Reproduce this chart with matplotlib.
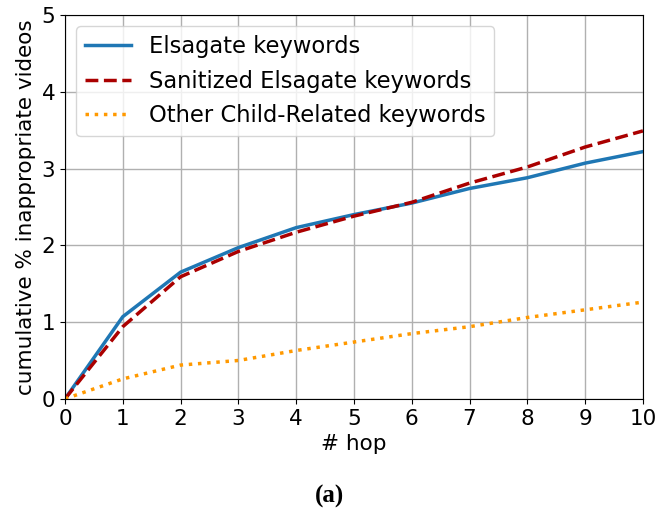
import matplotlib.pyplot as plt

hops = [0, 1, 2, 3, 4, 5, 6, 7, 8, 9, 10]
elsagate = [0, 1.07, 1.65, 1.97, 2.23, 2.40, 2.55, 2.74, 2.88, 3.07, 3.22]
sanitized = [0, 0.94, 1.59, 1.92, 2.17, 2.38, 2.56, 2.81, 3.02, 3.28, 3.49]
other = [0, 0.26, 0.44, 0.50, 0.63, 0.74, 0.85, 0.94, 1.06, 1.16, 1.26]

fig = plt.figure(figsize=(6.59, 5.16), dpi=100)
ax = fig.add_axes([0.0986, 0.227, 0.877, 0.744])

ax.plot(hops, elsagate, color='#1f77b4', lw=2.5, label='Elsagate keywords')
ax.plot(hops, sanitized, color='#aa0000', lw=2.5, ls='--', label='Sanitized Elsagate keywords')
ax.plot(hops, other, color='#ff9900', lw=2.5, ls=':', label='Other Child-Related keywords')

ax.set_xlim(0, 10)
ax.set_ylim(0, 5)
ax.set_xticks(range(11))
ax.set_yticks(range(6))
ax.grid(True, color='#b0b0b0', lw=1)
ax.tick_params(labelsize=15.5)
ax.set_xlabel('# hop', fontsize=15.5)
ax.set_ylabel('cumulative % inappropriate videos', fontsize=15.5)
ax.legend(loc='upper left', fontsize=16.3)

fig.text(0.5, 0.037, '(a)', ha='center', va='center', fontsize=18,
         fontweight='bold', family='Liberation Serif')

fig.savefig('out.png', dpi=100)
